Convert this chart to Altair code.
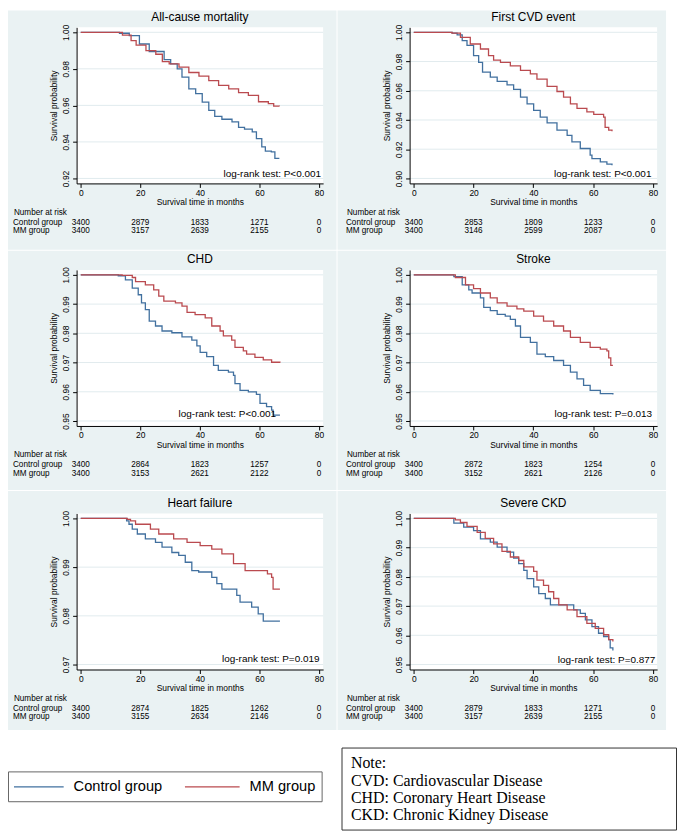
import altair as alt
import pandas as pd

FONT = "Liberation Sans"
SERIF = "Liberation Serif"
BG = "#eaf2f3"
GRID = "#e1ebee"
GROUPS = ["Control group", "MM group"]
COLORS = ["#41709f", "#ba4a4f"]
TIME_TICKS = [0, 20, 40, 60, 80]

TITLES = ["All-cause mortality", "First CVD event", "CHD", "Stroke", "Heart failure", "Severe CKD"]
Y_MIN = [0.92, 0.90, 0.95, 0.95, 0.97, 0.95]
Y_TICKS = [
    [0.92, 0.94, 0.96, 0.98, 1.00],
    [0.90, 0.92, 0.94, 0.96, 0.98, 1.00],
    [0.95, 0.96, 0.97, 0.98, 0.99, 1.00],
    [0.95, 0.96, 0.97, 0.98, 0.99, 1.00],
    [0.97, 0.98, 0.99, 1.00],
    [0.95, 0.96, 0.97, 0.98, 0.99, 1.00],
]
LOGRANK = ["log-rank test: P<0.001", "log-rank test: P<0.001", "log-rank test: P<0.001",
           "log-rank test: P=0.013", "log-rank test: P=0.019", "log-rank test: P=0.877"]
LOGRANK_X = [80.7, 79.5, 65.6, 79.7, 80.2, 80.8]
LOGRANK_Y = [0.9222, 0.9029, 0.9523, 0.9523, 0.9712, 0.9517]

RISK_CONTROL = [
    [3400, 2879, 1833, 1271, 0],
    [3400, 2853, 1809, 1233, 0],
    [3400, 2864, 1823, 1257, 0],
    [3400, 2872, 1823, 1254, 0],
    [3400, 2874, 1825, 1262, 0],
    [3400, 2879, 1833, 1271, 0],
]
RISK_MM = [
    [3400, 3157, 2639, 2155, 0],
    [3400, 3146, 2599, 2087, 0],
    [3400, 3153, 2621, 2122, 0],
    [3400, 3152, 2621, 2126, 0],
    [3400, 3155, 2634, 2146, 0],
    [3400, 3157, 2639, 2155, 0],
]

CONTROL_TIME = [
    [0, 13, 16.3, 19.7, 23, 28, 30.2, 32.4, 34, 36.3, 38.6, 40.8, 43, 45, 47.4, 50.8, 53, 55, 57.6, 59, 60.8, 62, 64, 65.2, 66.7],
    [0, 12.8, 14.5, 16.2, 17.8, 20, 21.7, 23, 25.6, 27.9, 31.2, 33.4, 35.7, 37.9, 40.1, 42.3, 44.6, 47.9, 51.3, 52.9, 55.7, 59, 59.6, 62.4, 64.6, 66.3],
    [0, 12.6, 15, 17.3, 19.3, 20.4, 21.7, 23, 25.1, 27.3, 30.6, 34, 37.3, 39, 40.1, 42.3, 44.6, 46.2, 49.6, 51.3, 51.8, 53.5, 56.3, 59, 60.2, 62.4, 64.1, 64.6, 66.9],
    [0, 12.8, 13.4, 16.2, 18.4, 19.5, 22.3, 23.4, 25.6, 27.9, 30.6, 32.3, 34, 35.7, 39, 41.2, 44, 46.8, 50.1, 52.4, 54.6, 56.8, 59, 62.4, 66.6],
    [0, 15.4, 16.2, 17.3, 19, 21.7, 25.1, 27.3, 30.6, 32.9, 35.1, 37.3, 39.6, 44, 45.7, 47.4, 52.4, 53.5, 57.4, 59.6, 61.3, 66.9],
    [0, 12.8, 13.4, 16.7, 20, 22.3, 25.6, 27.9, 31.2, 33.4, 35.1, 36.8, 37.9, 40.1, 41.8, 44, 45.7, 53.5, 55.7, 57.4, 59.6, 61.8, 63.5, 65.2, 65.7, 66.6],
]
CONTROL_SURV = [
    [1.0, 0.9995, 0.9982, 0.9936, 0.9895, 0.985, 0.9827, 0.98, 0.9755, 0.969, 0.9664, 0.9618, 0.9573, 0.954, 0.9524, 0.951, 0.948, 0.947, 0.9455, 0.9418, 0.9373, 0.935, 0.9345, 0.931, 0.931],
    [1.0, 0.9995, 0.9982, 0.9943, 0.991, 0.984, 0.9795, 0.9727, 0.9693, 0.9664, 0.964, 0.961, 0.9557, 0.951, 0.9466, 0.942, 0.938, 0.933, 0.9295, 0.925, 0.9205, 0.916, 0.9136, 0.9114, 0.9098, 0.909],
    [1.0, 0.9997, 0.9983, 0.9955, 0.9932, 0.9904, 0.9881, 0.9842, 0.9825, 0.9808, 0.9802, 0.9788, 0.9777, 0.9757, 0.9735, 0.972, 0.969, 0.9673, 0.9667, 0.9656, 0.9628, 0.9605, 0.96, 0.9591, 0.956, 0.9549, 0.9537, 0.952, 0.952],
    [1.0, 1.0, 0.9994, 0.9966, 0.9949, 0.9938, 0.9921, 0.9889, 0.9878, 0.9865, 0.9859, 0.9848, 0.9825, 0.9786, 0.9769, 0.9729, 0.972, 0.9707, 0.969, 0.9667, 0.9644, 0.9622, 0.9605, 0.9594, 0.9591],
    [1.0, 0.9995, 0.9988, 0.9978, 0.9968, 0.9958, 0.9951, 0.9941, 0.993, 0.9924, 0.991, 0.9893, 0.989, 0.9879, 0.9866, 0.9855, 0.9842, 0.9828, 0.9818, 0.9804, 0.9789, 0.9789],
    [1.0, 1.0, 0.9984, 0.997, 0.9958, 0.993, 0.9919, 0.9902, 0.9885, 0.9864, 0.9845, 0.9822, 0.9794, 0.9766, 0.9743, 0.9726, 0.9704, 0.9687, 0.9675, 0.9653, 0.963, 0.9607, 0.9596, 0.9585, 0.9557, 0.9548],
]
MM_TIME = [
    [0, 14, 16.9, 18.6, 21.9, 25.2, 27.4, 29.7, 33, 36.3, 39.7, 43, 46.3, 49.7, 53, 56.3, 59.7, 63, 64.8, 66.7],
    [0, 12.8, 15.6, 18.9, 22.3, 25, 26.7, 29, 32.3, 35.7, 39, 41.2, 44.6, 47.9, 50.1, 52.4, 54.6, 57.9, 60.2, 63.5, 64, 65.2, 66.3],
    [0, 13.9, 17.3, 18.4, 21.7, 24.5, 26.2, 27.9, 31.8, 34, 35.7, 38.4, 41.8, 44, 46.8, 47.9, 50.7, 51.8, 54.6, 55.7, 58.5, 61.3, 64.1, 66.9],
    [0, 13.9, 17.3, 20, 22.3, 25.6, 27.9, 31.2, 34.5, 36.8, 40.1, 43.4, 46.8, 50.1, 52.4, 55.7, 59, 62.4, 64.6, 65.2, 65.9, 66.6],
    [0, 15.6, 16.7, 18.4, 23.4, 26.2, 31.2, 35.7, 40.1, 44, 47.4, 51.3, 55.2, 59.6, 62.7, 64.1, 64.6, 66.9],
    [0, 13.9, 15.6, 17.8, 21.2, 23.9, 26.7, 29.5, 32.3, 35.1, 36.8, 40.1, 41.2, 43.4, 45.1, 46.8, 48.5, 51.3, 54.6, 57.9, 60.7, 63.5, 65.2, 66.6],
]
MM_SURV = [
    [1.0, 0.9985, 0.9955, 0.993, 0.99, 0.988, 0.984, 0.9827, 0.981, 0.978, 0.976, 0.9736, 0.971, 0.969, 0.967, 0.9655, 0.962, 0.961, 0.9596, 0.9595],
    [1.0, 0.9995, 0.9966, 0.992, 0.9886, 0.984, 0.981, 0.9795, 0.977, 0.9739, 0.9716, 0.968, 0.963, 0.9595, 0.9557, 0.951, 0.948, 0.9455, 0.9439, 0.942, 0.935, 0.933, 0.9323],
    [1.0, 0.9998, 0.9991, 0.9977, 0.9966, 0.9949, 0.9927, 0.991, 0.9904, 0.9893, 0.9872, 0.9864, 0.9853, 0.9825, 0.9808, 0.9791, 0.9777, 0.9752, 0.974, 0.9729, 0.9718, 0.9709, 0.9701, 0.9699],
    [1.0, 0.9991, 0.9966, 0.9953, 0.9938, 0.9921, 0.9904, 0.9893, 0.9884, 0.9876, 0.9859, 0.9842, 0.9825, 0.9808, 0.9786, 0.9769, 0.9752, 0.9746, 0.974, 0.9716, 0.969, 0.969],
    [1.0, 0.9998, 0.9995, 0.9988, 0.9978, 0.9968, 0.9958, 0.9951, 0.9944, 0.9937, 0.9927, 0.9907, 0.9893, 0.9893, 0.9886, 0.9879, 0.9855, 0.9855],
    [1.0, 0.9995, 0.9986, 0.9973, 0.9952, 0.9932, 0.9913, 0.9887, 0.9868, 0.9856, 0.9834, 0.9819, 0.9789, 0.9771, 0.9749, 0.9726, 0.9704, 0.9687, 0.9664, 0.9641, 0.9624, 0.9602, 0.9585, 0.9579],
]

NOTE_LINES = ["Note:", "CVD: Cardiovascular Disease", "CHD: Coronary Heart Disease", "CKD: Chronic Kidney Disease"]

# layout (pixels)
PLOT_W = [248, 249]
LEFT = [69, 72.5]
RIGHT = [13.5, 9]
PLOT_H = 157
ROW_TOP = [17, 19.3, 22.7]
ROW_BOTTOM = [66.67, 64.37, 60.97]

color_scale = alt.Scale(domain=GROUPS, range=COLORS)
one = pd.DataFrame({"k": [0]})


def make_panel(i, col, row):
    w, h = PLOT_W[col], PLOT_H
    left, right = LEFT[col], RIGHT[col]
    top, bottom = ROW_TOP[row], ROW_BOTTOM[row]
    ymin = Y_MIN[i]
    pad = 5 * (1.0 - ymin) / 147
    xs = alt.Scale(domain=[-1.4, 81.4], nice=False, zero=False)
    ys = alt.Scale(domain=[ymin - pad, 1.0 + pad], nice=False, zero=False)
    xaxis = alt.Axis(values=TIME_TICKS, title="Survival time in months", grid=False, labelFlush=False,
                     tickSize=4, labelPadding=1, titlePadding=1, zindex=1, format="d")
    yaxis = alt.Axis(values=Y_TICKS[i], format=".2f", title="Survival probability", grid=False,
                     labelAngle=270, labelAlign="center", labelBaseline="bottom", labelOverlap=False,
                     tickSize=4, labelPadding=2, titlePadding=3, zindex=1)
    X = alt.X("time:Q", scale=xs, axis=xaxis)
    Y = alt.Y("surv:Q", scale=ys, axis=yaxis)

    curves = pd.concat([
        pd.DataFrame({"time": CONTROL_TIME[i], "surv": CONTROL_SURV[i], "group": GROUPS[0]}),
        pd.DataFrame({"time": MM_TIME[i], "surv": MM_SURV[i], "group": GROUPS[1]}),
    ])

    layers = []
    layers.append(alt.Chart(one).mark_rect(color=BG).encode(
        x=alt.value(-left), x2=alt.value(w + right), y=alt.value(-top), y2=alt.value(h + bottom)))
    layers.append(alt.Chart(one).mark_rect(color="white").encode(
        x=alt.value(0), x2=alt.value(w), y=alt.value(0), y2=alt.value(h)))
    layers.append(alt.Chart(pd.DataFrame({"surv": Y_TICKS[i]})).mark_rule(color=GRID, strokeWidth=1).encode(
        x=alt.value(0), x2=alt.value(w), y=Y))
    layers.append(alt.Chart(curves).mark_line(interpolate="step-after", strokeWidth=1.3).encode(
        x=X, y=Y, color=alt.Color("group:N", scale=color_scale, legend=None)))
    layers.append(alt.Chart(pd.DataFrame({"time": [LOGRANK_X[i]], "surv": [LOGRANK_Y[i]], "label": [LOGRANK[i]]}))
                  .mark_text(align="right", baseline="middle", fontSize=10, font=FONT, color="black")
                  .encode(x=X, y=Y, text="label:N"))
    # title
    layers.append(alt.Chart(one).mark_text(text=TITLES[i], fontSize=12, font=FONT, color="black",
                                           align="center", baseline="middle")
                  .encode(x=alt.value(w / 2), y=alt.value(-10.5)))
    # number at risk table
    layers.append(alt.Chart(one).mark_text(text="Number at risk", fontSize=8.2, font=FONT, color="black",
                                           align="left", baseline="middle")
                  .encode(x=alt.value(-63), y=alt.value(h + 29.5)))
    for k, vals in enumerate([RISK_CONTROL[i], RISK_MM[i]]):
        yy = h + 39.5 + 8.5 * k
        layers.append(alt.Chart(one).mark_text(text=GROUPS[k], fontSize=8.2, font=FONT, color="black",
                                               align="left", baseline="middle")
                      .encode(x=alt.value(-64), y=alt.value(yy)))
        layers.append(alt.Chart(pd.DataFrame({"time": TIME_TICKS, "n": [str(v) for v in vals]}))
                      .mark_text(fontSize=8.2, font=FONT, color="black", align="center", baseline="middle")
                      .encode(x=X, y=alt.value(yy), text="n:N"))
    return alt.layer(*layers).properties(width=w, height=h)


rows = []
for r in range(3):
    rows.append(alt.hconcat(make_panel(2 * r, 0, r), make_panel(2 * r + 1, 1, r), spacing=0))

# bottom: legend and note (origin aligned with the first panel's plot origin)
bl = []
bl.append(alt.Chart(one).mark_rect(fill="white", stroke="#666666", strokeWidth=1).encode(
    x=alt.value(-68.5), x2=alt.value(247), y=alt.value(42), y2=alt.value(72)))
LEG_LINE_X = [(-63, -13), (109, 164)]
LEG_TEXT_X = [-3, 174]
for k in range(2):
    bl.append(alt.Chart(one).mark_rule(color=COLORS[k], strokeWidth=1.3).encode(
        x=alt.value(LEG_LINE_X[k][0]), x2=alt.value(LEG_LINE_X[k][1]), y=alt.value(57)))
    bl.append(alt.Chart(one).mark_text(text=GROUPS[k], fontSize=14.7, font=FONT, color="black",
                                       align="left", baseline="middle")
              .encode(x=alt.value(LEG_TEXT_X[k]), y=alt.value(57)))
bl.append(alt.Chart(one).mark_rect(fill="white", stroke="#333333", strokeWidth=1).encode(
    x=alt.value(267), x2=alt.value(603.5), y=alt.value(18), y2=alt.value(100.5)))
NOTE_Y = [38, 56, 73, 90]
for k, line in enumerate(NOTE_LINES):
    bl.append(alt.Chart(one).mark_text(text=line, fontSize=16, font=SERIF, color="black",
                                       align="left", baseline="alphabetic")
              .encode(x=alt.value(276), y=alt.value(NOTE_Y[k])))
bottom = alt.layer(*bl).properties(width=600, height=101)

chart = alt.vconcat(*rows, bottom, spacing=0).properties(padding=0, background="white").configure_view(
    strokeWidth=0
).configure_axis(
    domainColor="black", tickColor="black", labelColor="black", titleColor="black",
    labelFont=FONT, titleFont=FONT, labelFontSize=8.5, titleFontSize=8.5, titleFontWeight="normal",
    domainWidth=1, tickWidth=1
)

chart.save("out.html", embed_options={"renderer": "svg", "actions": False})
